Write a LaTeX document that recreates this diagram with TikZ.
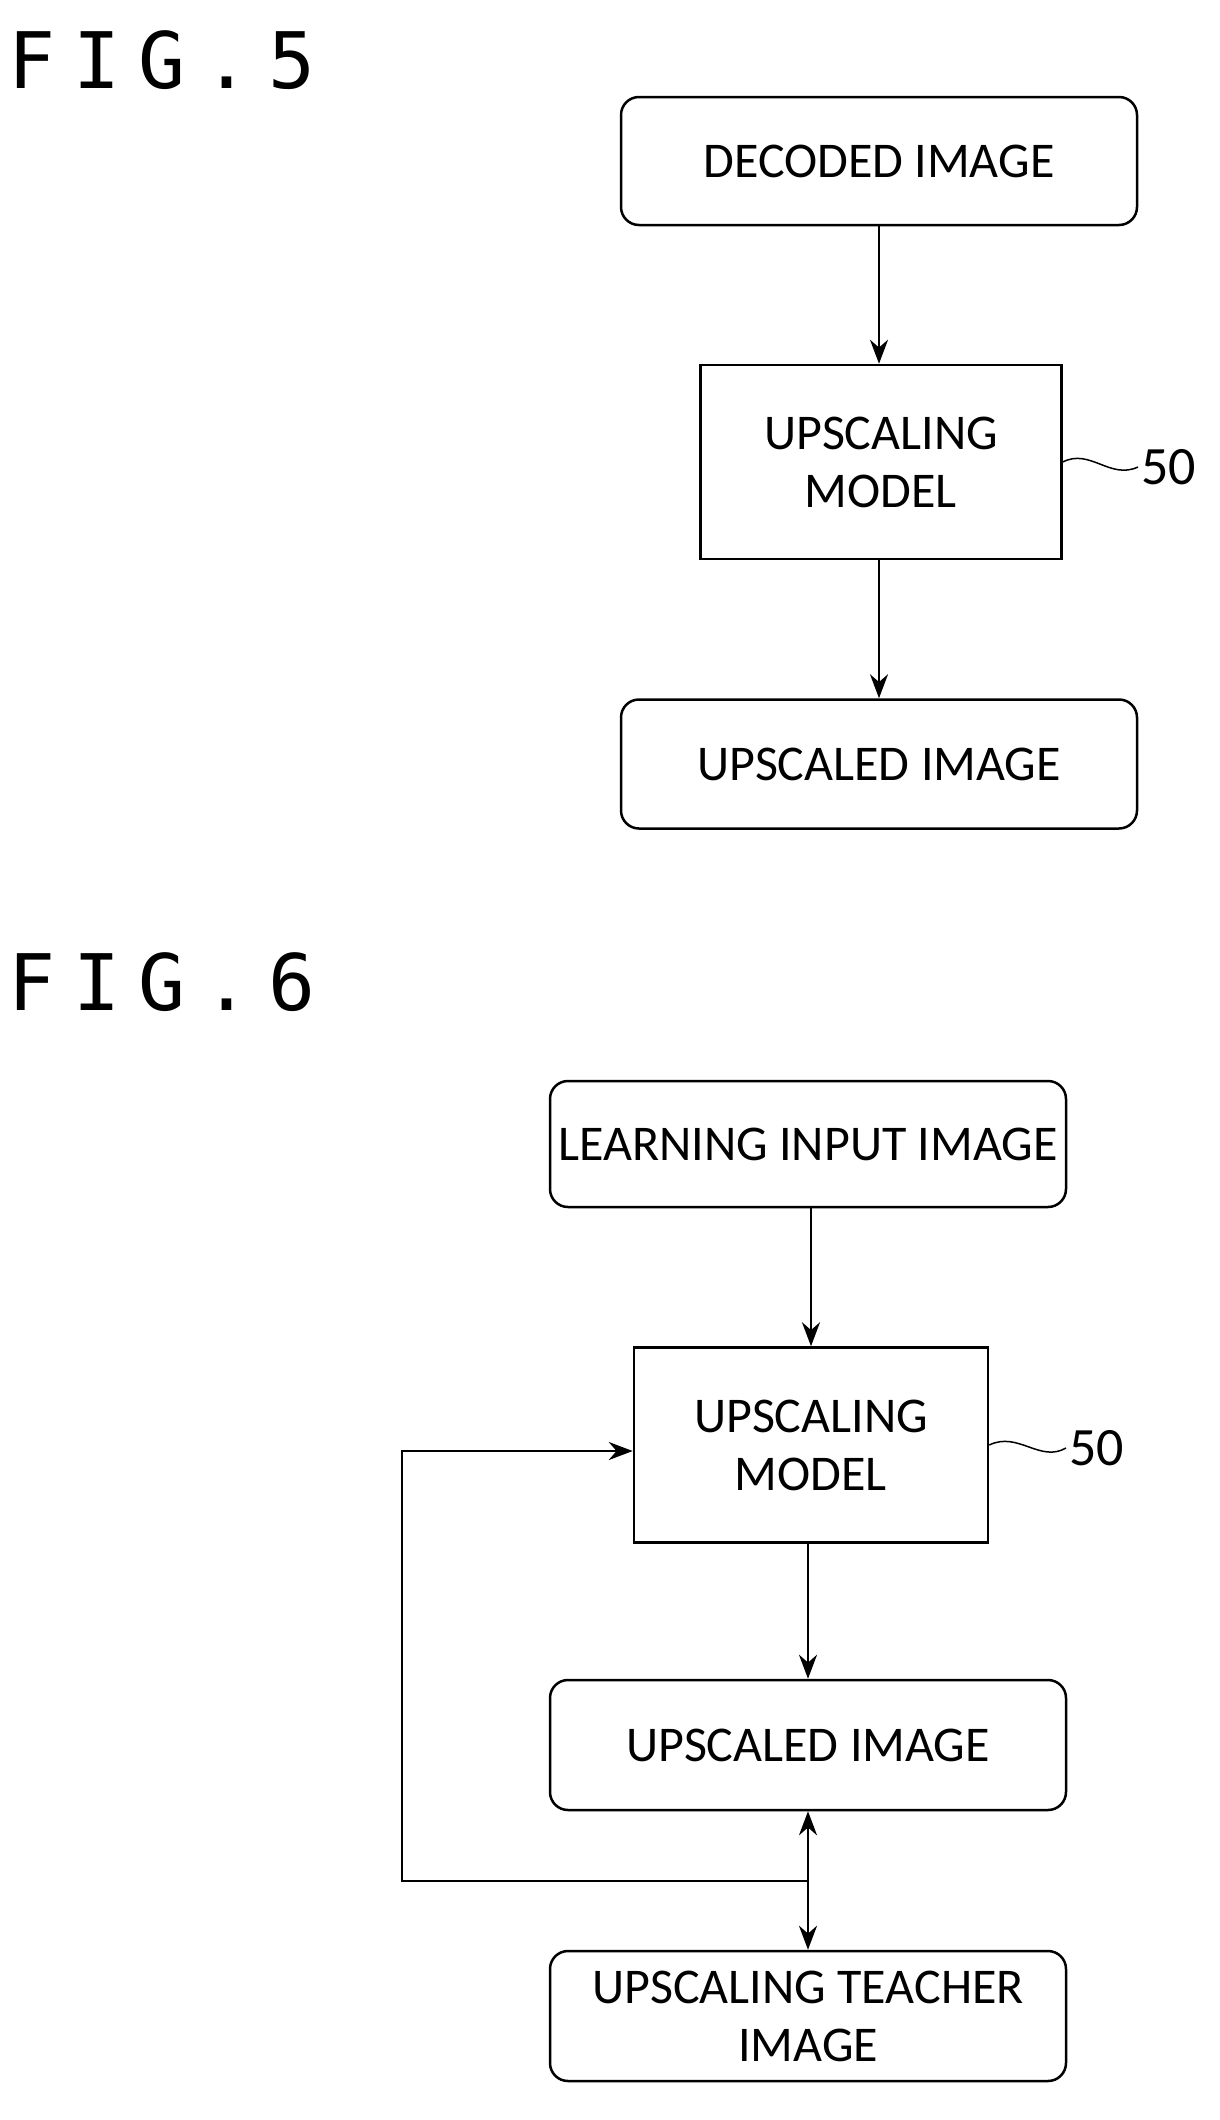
\documentclass[tikz,border=0pt]{standalone}
\usetikzlibrary{arrows.meta}
\usepackage{fontspec}
\setmainfont{Carlito}
\newfontfamily\figfont{DejaVu Sans Mono}
\begin{document}
\begin{tikzpicture}[x=1pt,y=-1pt,
  rbox/.style={draw,line width=2.5pt,rounded corners=18pt,align=center,font=\fontsize{50}{58}\selectfont},
  sbox/.style={draw,line width=2.5pt,align=center,font=\fontsize{50}{58}\selectfont},
  arr/.style={-{Stealth[length=24pt,width=18pt]},line width=2.5pt},
  figlab/.style={anchor=west,font=\figfont\fontsize{78}{86}\selectfont},
  ref/.style={font=\fontsize{54}{60}\selectfont}]
\useasboundingbox (0,0) rectangle (1220,2120);
\node[figlab] (f5) at (5,60) {F\hspace{18pt}I\hspace{18pt}G\hspace{18pt}.\hspace{18pt}5};
\node[rbox,minimum width=516pt,minimum height=128pt] (d) at (879,161) {DECODED IMAGE};
\node[sbox,minimum width=361pt,minimum height=194pt] (m) at (881,462) {UPSCALING\\MODEL};
\node[rbox,minimum width=516pt,minimum height=129pt] (u) at (879,764) {UPSCALED IMAGE};
\draw[arr] (d.south) -- (d.south|-m.north);
\draw[arr] (m.south-|u.north) -- (u.north);
\node[ref,anchor=west] (l1) at (1138,467) {50};
\draw[line width=1.5pt] (m.east|-0,462) .. controls (1090,448) and (1110,480) .. (l1.west);
\node[figlab] (f6) at (5,982) {F\hspace{18pt}I\hspace{18pt}G\hspace{18pt}.\hspace{18pt}6};
\node[rbox,minimum width=516pt,minimum height=126pt] (li) at (808,1144) {LEARNING INPUT IMAGE};
\node[sbox,minimum width=354pt,minimum height=195pt] (m2) at (811,1445) {UPSCALING\\MODEL};
\node[rbox,minimum width=516pt,minimum height=130pt] (u2) at (808,1745) {UPSCALED IMAGE};
\node[rbox,minimum width=516pt,minimum height=130pt] (t) at (808,2016) {UPSCALING TEACHER\\IMAGE};
\draw[arr] (li.south-|m2.north) -- (m2.north);
\draw[arr] (m2.south-|u2.north) -- (u2.north);
\node[ref,anchor=west] (l2) at (1066,1448) {50};
\draw[line width=1.5pt] (m2.east|-0,1445) .. controls (1018,1431) and (1040,1463) .. (l2.west);
\coordinate (j) at (808,1881);
\draw[arr] (j) -- (u2.south);
\draw[arr] (j) -- (t.north);
\draw[arr] (j) -- (402,1881) -- (402,1451) -- (m2.west|-0,1451);
\end{tikzpicture}
\end{document}
